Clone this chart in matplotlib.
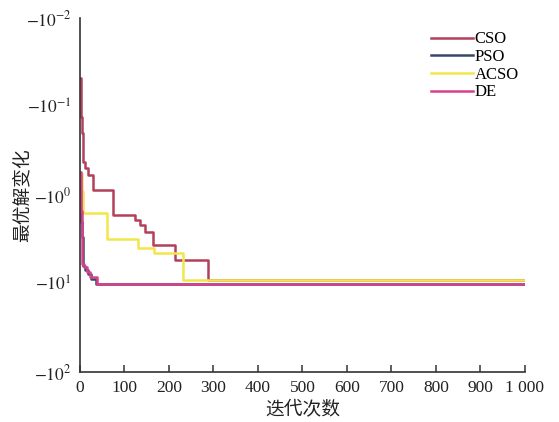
import numpy as np
import matplotlib
matplotlib.use("Agg")
import matplotlib.pyplot as plt
from matplotlib.ticker import FixedLocator, FixedFormatter

plt.rcParams['font.family'] = ['Liberation Serif', 'Noto Sans CJK SC']
plt.rcParams['mathtext.fontset'] = 'stix'

# données (itération, meilleure solution)
cso_iter = [0, 2, 4, 6, 8, 12, 18, 29, 74, 124, 135, 146, 164, 213, 288, 1000]
cso_val = [-0.048, -0.13, -0.2, -0.3, -0.42, -0.5, -0.6, -0.88, -1.7, -1.92, -2.2,
           -2.6, -3.7, -5.4, -9.1, -9.1]

pso_iter = [0, 2, 4, 6, 12, 18, 25, 35, 1000]
pso_val = [-0.7, -2.0, -3.0, -6.4, -7.0, -7.8, -8.8, -10.2, -10.2]

acso_iter = [0, 4, 8, 61, 130, 167, 232, 1000]
acso_val = [-0.58, -0.9, -1.6, -3.1, -4.0, -4.5, -9.1, -9.1]

de_iter = [0, 2, 4, 10, 16, 22, 38, 1000]
de_val = [-0.55, -1.5, -6.0, -6.5, -7.5, -8.5, -10.2, -10.2]

series = [
    ('CSO', cso_iter, cso_val, '#b3405a'),
    ('PSO', pso_iter, pso_val, '#38486a'),
    ('ACSO', acso_iter, acso_val, '#f2e64a'),
    ('DE', de_iter, de_val, '#d8408c'),
]

y_ticks = [-0.01, -0.1, -1, -10, -100]
y_labels = [r'$-10^{-2}$', r'$-10^{-1}$', r'$-10^{0}$', r'$-10^{1}$', r'$-10^{2}$']
x_ticks = [0, 100, 200, 300, 400, 500, 600, 700, 800, 900, 1000]
x_labels = ['0', '100', '200', '300', '400', '500', '600', '700', '800', '900', '1 000']

fig = plt.figure(figsize=(5.59, 4.22), dpi=100)
ax = fig.add_axes([0.143, 0.1185, 0.796, 0.8385])

# échelle log sur la valeur absolue, axe inversé (valeurs négatives)
for name, it, val, col in series:
    ax.plot(it, np.abs(val), drawstyle='steps-post', color=col, lw=1.8, label=name)

ax.set_yscale('log')
ax.set_ylim(100, 0.01)
ax.yaxis.set_major_locator(FixedLocator(np.abs(y_ticks)))
ax.yaxis.set_major_formatter(FixedFormatter(y_labels))
# seul le tick du haut est visible sur l'original
ax.yaxis.set_minor_locator(FixedLocator([abs(y_ticks[0])]))
ax.set_xlim(0, 1000)
ax.set_xticks(x_ticks)
ax.set_xticklabels(x_labels)

for s in ['top', 'right']:
    ax.spines[s].set_visible(False)
for s in ['left', 'bottom']:
    ax.spines[s].set_color('#333333')
    ax.spines[s].set_linewidth(1.2)
ax.tick_params(axis='both', direction='in', length=5, width=1.1, color='#333333',
               labelsize=12.5, labelcolor='#222222')
ax.tick_params(axis='y', which='major', length=0, pad=6)
ax.tick_params(axis='y', which='minor', direction='in', length=6, width=1.1,
               color='#333333')
ax.tick_params(axis='x', pad=6)

ax.set_xlabel('迭代次数', family=['Noto Sans CJK SC'], fontsize=13.5, color='#222222')
ax.xaxis.set_label_coords(0.5, -0.078)
ax.set_ylabel('最优解变化', family=['Noto Sans CJK SC'], fontsize=13.5, color='#222222')
ax.yaxis.set_label_coords(-0.106, 0.5)

ax.legend(loc='upper right', bbox_to_anchor=(1.02, 1.005), frameon=False, fontsize=12,
          handlelength=2.5, handletextpad=0.1, labelspacing=0.1)

plt.savefig('out.png', dpi=100)
